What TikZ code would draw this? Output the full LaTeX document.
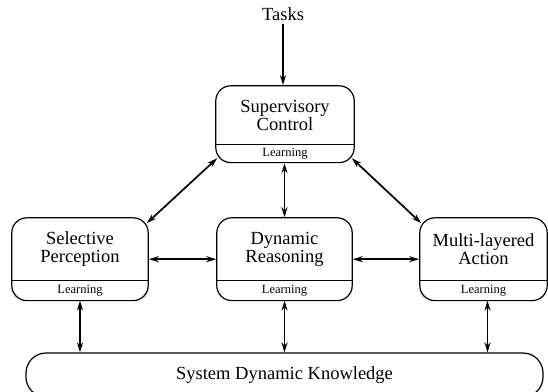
\documentclass[tikz,border=0pt]{standalone}
\usepackage{fontspec}
\setmainfont{Liberation Serif}
\usetikzlibrary{arrows.meta,positioning,fit}

\begin{document}
\begin{tikzpicture}[x=1pt, y=-1pt, >={Stealth[length=10pt,width=6pt]},
  title/.style={align=center, inner sep=0pt, font=\fontsize{18.5}{18}\selectfont},
  learn/.style={inner sep=0pt, font=\fontsize{12.5}{13}\selectfont},
  module/.style={draw, line width=1.2pt, rounded corners=15pt, inner sep=0pt},
  link/.style={<->, line width=1.7pt}]
  \clip (0,0) rectangle (548,391);
  % supervisory control
  \node[title, minimum width=138pt, minimum height=58pt] (sup) at (285,115) {Supervisory\\Control};
  \node[learn, minimum width=138pt, minimum height=18pt, below=0pt of sup] (supl) {Learning};
  \node[module, fit=(sup)(supl)] (supbox) {};
  \draw[line width=0.8pt] (supl.north west) -- (supl.north east);
  % middle row
  \node[title, minimum width=136pt, minimum height=62pt] (sel) at (80,249) {Selective\\Perception};
  \node[learn, minimum width=136pt, minimum height=20pt, below=0pt of sel] (sell) {Learning};
  \node[module, fit=(sel)(sell)] (selbox) {};
  \draw[line width=0.8pt] (sell.north west) -- (sell.north east);
  \node[title, minimum width=135pt, minimum height=62pt] (dyn) at (284.5,249) {Dynamic\\Reasoning};
  \node[learn, minimum width=135pt, minimum height=20pt, below=0pt of dyn] (dynl) {Learning};
  \node[module, fit=(dyn)(dynl)] (dynbox) {};
  \draw[line width=0.8pt] (dynl.north west) -- (dynl.north east);
  \node[title, minimum width=127pt, minimum height=62pt] (mult) at (483.5,249) {Multi-layered\\Action};
  \node[learn, minimum width=127pt, minimum height=20pt, below=0pt of mult] (multl) {Learning};
  \node[module, fit=(mult)(multl)] (multbox) {};
  \draw[line width=0.8pt] (multl.north west) -- (multl.north east);
  % knowledge and tasks
  \node[module, title, rounded corners=20pt, minimum width=517pt, minimum height=44pt] (know) at (284.5,375) {System Dynamic Knowledge};
  \node[title] (tasks) at (283,14) {Tasks};
  % connectors
  \draw[->, line width=1.7pt, shorten <=3pt] (tasks) -- (tasks |- supbox.north);
  \draw[link] ([shift={(2,-5)}]supbox.south west) -- ([shift={(-2,6)}]selbox.north east);
  \draw[link] ([shift={(-3,-5)}]supbox.south east) -- ([shift={(2,6)}]multbox.north west);
  \draw[link] (dynbox.north) -- (dynbox.north |- supbox.south);
  \draw[link] (selbox) -- (dynbox);
  \draw[link] (dynbox) -- (multbox);
  \draw[link] (sell.south) -- (sell.south |- know.north);
  \draw[link] (dynl.south) -- (dynl.south |- know.north);
  \draw[link] ([xshift=4pt]multl.south) -- ([xshift=4pt]multl.south |- know.north);
\end{tikzpicture}
\end{document}
